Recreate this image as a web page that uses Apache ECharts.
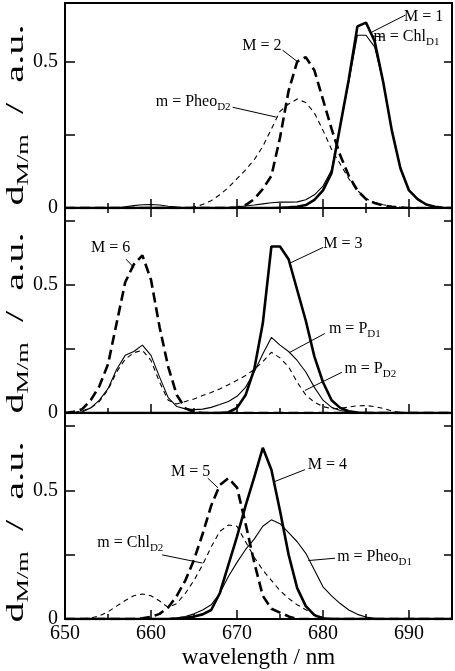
<!DOCTYPE html>
<html><head><meta charset="utf-8">
<script src="https://cdn.jsdelivr.net/npm/echarts@6/dist/echarts.min.js"></script>
<style>html,body{margin:0;padding:0;background:#fff}#c{width:455px;height:671px}</style>
</head><body><div id="c"></div>
<script>
// ---------- data ----------
const wavelength = [650,651,652,653,654,655,656,657,658,659,660,661,662,663,664,665,666,667,668,669,670,671,672,673,674,675,676,677,678,679,680,681,682,683,684,685,686,687,688,689,690,691,692,693,694,695];

// top panel
const M1     = [0,0,0,0,0,0,0,0,0,0, 0,0,0,0,0,0,0,0,0,0, 0,0,0,0,0,0.001,0.002,0.004,0.01,0.028, 0.06,0.12,0.28,0.44,0.62,0.633,0.57,0.43,0.265,0.136, 0.06,0.03,0.012,0.004,0.001,0];
const ChlD1  = [0,0,0,0,0,0,0,0.004,0.008,0.011, 0.012,0.01,0.006,0.003,0.001,0,0,0,0.001,0.002, 0.004,0.007,0.01,0.014,0.018,0.02,0.02,0.021,0.028,0.045, 0.075,0.13,0.28,0.43,0.59,0.59,0.55,0.43,0.265,0.136, 0.06,0.03,0.012,0.004,0.001,0];
const M2     = [0,0,0,0,0,0,0,0,0,0, 0,0,0,0,0,0,0,0,0,0, 0.001,0.01,0.03,0.065,0.11,0.24,0.40,0.50,0.515,0.47, 0.37,0.27,0.18,0.11,0.06,0.03,0.017,0.009,0.004,0.002, 0,0,0,0,0,0];
const PheoD2 = [0,0,0,0,0,0,0,0,0,0, 0,0,0,0,0,0.003,0.012,0.025,0.045,0.07, 0.10,0.13,0.165,0.21,0.27,0.33,0.355,0.372,0.36,0.325, 0.265,0.2,0.15,0.1,0.06,0.032,0.018,0.011,0.006,0.003, 0.001,0,0,0,0,0];

// middle panel
const M3     = [0,0,0,0,0,0,0,0,0,0, 0,0,0,0,0,0,0,0,0,0.003, 0.02,0.07,0.17,0.35,0.65,0.65,0.6,0.48,0.36,0.22, 0.12,0.05,0.02,0.007,0.002,0,0,0,0,0, 0,0,0,0,0,0];
const PD1    = [0,0.001,0.005,0.02,0.05,0.095,0.17,0.225,0.24,0.265, 0.225,0.14,0.06,0.025,0.016,0.013,0.015,0.022,0.033,0.045, 0.065,0.1,0.16,0.23,0.295,0.265,0.24,0.205,0.16,0.1, 0.05,0.022,0.01,0.004,0.001,0,0,0,0,0, 0,0,0,0,0,0];
const PD2    = [0,0.002,0.008,0.02,0.045,0.09,0.16,0.21,0.235,0.245, 0.205,0.12,0.05,0.035,0.045,0.055,0.068,0.08,0.094,0.11, 0.128,0.146,0.17,0.2,0.237,0.215,0.18,0.12,0.07,0.042, 0.025,0.017,0.018,0.023,0.028,0.029,0.025,0.018,0.008,0.002, 0,0,0,0,0,0];
const M6     = [0,0.005,0.015,0.05,0.105,0.19,0.35,0.51,0.58,0.615, 0.52,0.335,0.18,0.07,0.018,0.004,0,0,0,0, 0,0,0,0,0,0,0,0,0,0, 0,0,0,0,0,0,0,0,0,0, 0,0,0,0,0,0];

// bottom panel
const M4     = [0,0,0,0,0,0,0,0,0,0, 0,0,0,0.002,0.005,0.01,0.018,0.035,0.1,0.21, 0.32,0.44,0.55,0.665,0.58,0.42,0.25,0.12,0.05,0.015, 0.003,0,0,0,0,0,0,0,0,0, 0,0,0,0,0,0];
const PheoD1 = [0,0,0,0,0,0,0,0,0,0, 0,0,0.002,0.005,0.01,0.02,0.035,0.055,0.1,0.165, 0.22,0.27,0.31,0.36,0.385,0.37,0.335,0.3,0.255,0.19, 0.125,0.09,0.06,0.035,0.018,0.008,0.003,0,0,0, 0,0,0,0,0,0];
const M5     = [0,0,0,0,0,0,0,0,0,0.003, 0.008,0.02,0.045,0.09,0.15,0.23,0.33,0.44,0.52,0.547, 0.51,0.37,0.22,0.09,0.04,0.025,0.01,0,0,0, 0,0,0,0,0,0,0,0,0,0, 0,0,0,0,0,0];
const ChlD2  = [0,0,0,0.004,0.012,0.028,0.05,0.072,0.09,0.097, 0.09,0.07,0.045,0.06,0.1,0.15,0.21,0.28,0.34,0.365, 0.36,0.3,0.24,0.19,0.15,0.11,0.08,0.055,0.036,0.018, 0.006,0,0,0,0,0,0,0,0,0, 0,0,0,0,0,0];

const xTickLabels = ['650','660','670','680','690'];
const yTickLabels = ['0','0.5'];
const panelMax = [0.7, 0.8, 0.8];

// annotations (data coordinates)
const notesTop = [
  {text:'{a|M = 1}', at:[691.7,0.652], from:[689.6,0.659], to:[685.7,0.601]},
  {text:'{a|m = Chl}{b|D1}', at:[689.7,0.584], from:[687.1,0.584], to:[685.8,0.587]},
  {text:'{a|M = 2}', at:[672.9,0.553], from:[675.3,0.539], to:[677.1,0.498]},
  {text:'{a|m = Pheo}{b|D2}', at:[664.9,0.362], from:[669.5,0.344], to:[674.6,0.31]}
];
const notesMid = [
  {text:'{a|M = 6}', at:[655.3,0.643], from:[657.1,0.6], to:[658.0,0.568]},
  {text:'{a|M = 3}', at:[682.3,0.662], from:[680.0,0.646], to:[676.1,0.584]},
  {text:'{a|m = P}{b|D1}', at:[683.7,0.33], from:[680.2,0.31], to:[676.1,0.236]},
  {text:'{a|m = P}{b|D2}', at:[685.5,0.174], from:[682.2,0.159], to:[677.9,0.088]}
];
const notesBot = [
  {text:'{a|M = 5}', at:[664.6,0.572], from:[666.6,0.547], to:[667.8,0.509]},
  {text:'{a|M = 4}', at:[680.5,0.599], from:[677.9,0.58], to:[674.4,0.534]},
  {text:'{a|m = Chl}{b|D2}', at:[657.6,0.296], from:[661.3,0.249], to:[666.0,0.217]},
  {text:'{a|m = Pheo}{b|D1}', at:[686.0,0.241], from:[681.4,0.236], to:[678.3,0.227]}
];

// ---------- styles ----------
const FONT = '"Liberation Serif","Times New Roman",serif';
const STY = {
  thickSolid: {width:2.6, type:'solid'},
  thinSolid:  {width:1.1, type:'solid'},
  thickDash:  {width:2.6, type:[10,5]},
  thinDash:   {width:1.1, type:[5,4]}
};
const panels = [
  {curves:[[M1,'thickSolid'],[ChlD1,'thinSolid'],[M2,'thickDash'],[PheoD2,'thinDash']], notes:notesTop, topTicks:false},
  {curves:[[M3,'thickSolid'],[PD1,'thinSolid'],[M6,'thickDash'],[PD2,'thinDash']], notes:notesMid, topTicks:true},
  {curves:[[M4,'thickSolid'],[PheoD1,'thinSolid'],[M5,'thickDash'],[ChlD2,'thinDash']], notes:notesBot, topTicks:false}
];
const gridBoxes = [{top:3,height:205},{top:208,height:205},{top:413,height:206}];

const richNote = {
  a:{fontSize:16, fontFamily:FONT, color:'#000', verticalAlign:'middle'},
  b:{fontSize:11, fontFamily:FONT, color:'#000', verticalAlign:'middle', padding:[11,0,0,0]}
};

const grid = [], xAxis = [], yAxis = [], series = [];
panels.forEach((p, g) => {
  grid.push({left:65, width:387, top:gridBoxes[g].top, height:gridBoxes[g].height,
    show:true, borderColor:'#000', borderWidth:2, backgroundColor:'transparent'});
  const isBottom = g === panels.length - 1;
  const baseX = xAxis.length;
  const mk = (pos, interval, len, labels) => ({
    type:'value', gridIndex:g, position:pos, min:650, max:695, interval:interval,
    axisLine:{show:false}, splitLine:{show:false},
    axisTick:{show:true, inside:true, length:len, lineStyle:{color:'#000', width:1.5}},
    axisLabel: labels ? {show:true, fontSize:20, fontFamily:FONT, color:'#000', margin:5,
      showMaxLabel:false, formatter: v => xTickLabels.includes(String(v)) ? String(v) : ''} : {show:false}
  });
  xAxis.push(mk('bottom',5,5,false));
  const maj = mk('bottom',10,9,isBottom);
  if (isBottom) {
    maj.name = 'wavelength / nm'; maj.nameLocation = 'middle'; maj.nameGap = 27;
    maj.nameTextStyle = {fontSize:23, fontFamily:FONT, color:'#000'};
  }
  xAxis.push(maj);
  if (p.topTicks) { xAxis.push(mk('top',5,5,false)); xAxis.push(mk('top',10,9,false)); }
  const baseY = yAxis.length;
  yAxis.push({type:'value', gridIndex:g, position:'left', min:0, max:panelMax[g], interval:0.25,
    axisLine:{show:false}, splitLine:{show:false},
    axisTick:{inside:true, length:10, lineStyle:{color:'#000', width:1.5}},
    axisLabel:{fontSize:20, fontFamily:FONT, color:'#000', margin:7,
      formatter: v => { const s = String(v); return yTickLabels.includes(s) ? s : ''; }}});
  yAxis.push({type:'value', gridIndex:g, position:'right', min:0, max:panelMax[g], interval:0.25,
    axisLine:{show:false}, splitLine:{show:false},
    axisTick:{inside:true, length:8, lineStyle:{color:'#000', width:1.5}},
    axisLabel:{show:false}});
  p.curves.forEach((c, k) => {
    const s = {
      type:'line', xAxisIndex:baseX, yAxisIndex:baseY, showSymbol:false, symbol:'none',
      silent:true, animation:false,
      lineStyle:{color:'#000', width:STY[c[1]].width, type:STY[c[1]].type},
      data: wavelength.map((w, i) => [w, c[0][i]])
    };
    if (k === 0) {
      s.markLine = {silent:true, animation:false, symbol:['none','none'],
        lineStyle:{color:'#000', width:1, type:'solid'}, label:{show:false},
        data: p.notes.map(n => [{coord:n.from}, {coord:n.to}])};
      s.markPoint = {silent:true, animation:false, symbol:'rect', symbolSize:1,
        itemStyle:{color:'rgba(0,0,0,0)'},
        label:{show:true, position:'inside', color:'#000', rich:richNote},
        data: p.notes.map(n => ({coord:n.at, value:0, label:{formatter:n.text}}))};
    }
    series.push(s);
  });
});

const yTitleCenters = [115, 323, 532];
const graphic = yTitleCenters.map(cy => ({
  type:'text', x:16, y:cy, rotation:Math.PI/2, scaleX:1.55, scaleY:1, silent:true,
  style:{
    text:'{d|d}{s|M/m}{d|  /  a.u.}',
    align:'center', verticalAlign:'middle', textAlign:'center', textVerticalAlign:'middle',
    fill:'#000',
    rich:{
      d:{fontSize:26, fontFamily:FONT, fill:'#000', color:'#000', verticalAlign:'middle'},
      s:{fontSize:17, fontFamily:FONT, fill:'#000', color:'#000', verticalAlign:'middle', padding:[16,0,0,0]}
    }
  }
}));

const chart = echarts.init(document.getElementById('c'), null, {renderer:'canvas'});
chart.setOption({backgroundColor:'#fff', animation:false, grid, xAxis, yAxis, series, graphic});
</script></body></html>
